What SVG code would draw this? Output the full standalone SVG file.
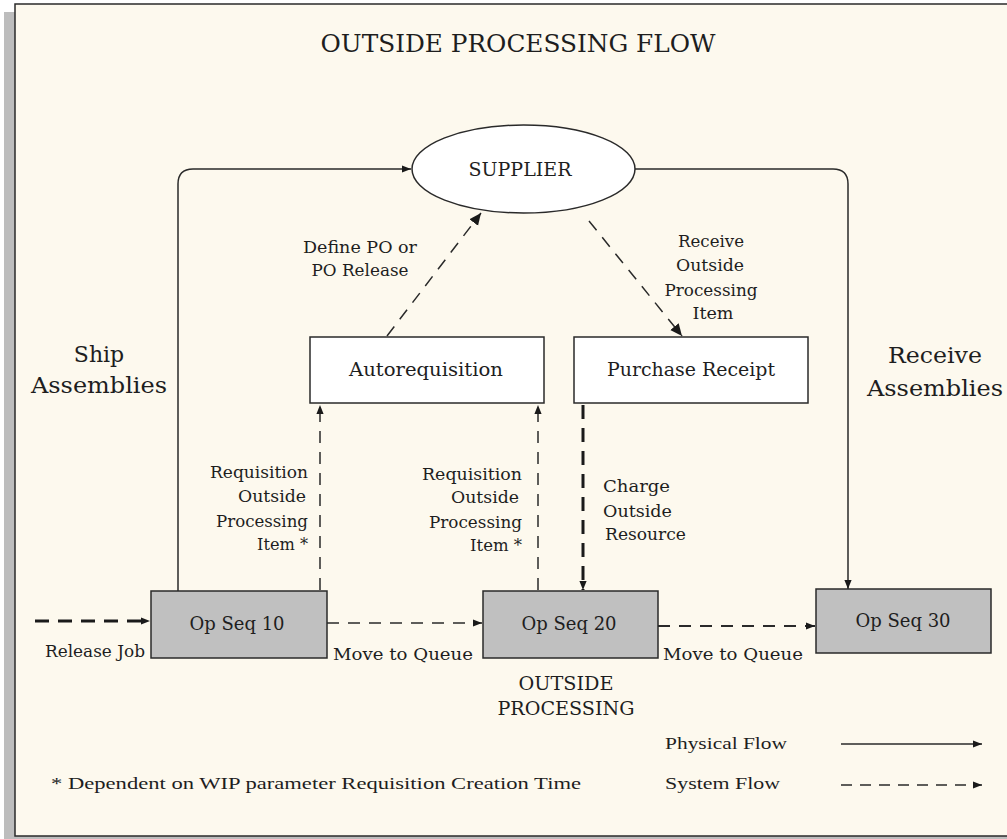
<svg xmlns="http://www.w3.org/2000/svg" width="1007" height="839" viewBox="0 0 1007 839">
<style>
text{font-family:"DejaVu Serif","Liberation Serif",serif;fill:#1e1e1e}
.t17{font-size:17px}
.t18{font-size:18px}
.big{font-size:22px}
.ln{fill:none;stroke:#2a2a2a;stroke-width:1.5}
.ds{fill:none;stroke:#2a2a2a;stroke-width:1.5;stroke-dasharray:12 9}
.dk{fill:none;stroke:#1a1a1a;stroke-width:3;stroke-dasharray:14 9}
.op{fill:#c0c0c0;stroke:#2a2a2a;stroke-width:1.5}
.wb{fill:#ffffff;stroke:#2a2a2a;stroke-width:1.5}
.foot{font-family:"Liberation Serif",serif;font-size:17px}
</style>
<defs>
<marker id="ah" viewBox="0 0 10 10" refX="10" refY="5" markerWidth="9" markerHeight="9" markerUnits="userSpaceOnUse" orient="auto"><path d="M0,1 L10,5 L0,9 z" fill="#1a1a1a"/></marker>
<marker id="ahs" viewBox="0 0 10 10" refX="10" refY="5" markerWidth="12" markerHeight="12" markerUnits="userSpaceOnUse" orient="auto"><path d="M0,0.5 L10,5 L0,9.5 z" fill="#1a1a1a"/></marker>
</defs>
<rect x="4" y="12" width="1003" height="827" fill="#bdbdbd"/>
<rect x="15" y="4" width="1000" height="832" fill="#fdf9ee" stroke="#2a2a2a" stroke-width="1.5"/>
<text x="518" y="52" text-anchor="middle" style="font-size:25px" textLength="395" lengthAdjust="spacingAndGlyphs">OUTSIDE PROCESSING FLOW</text>

<g id="connectors">
<path class="ln" d="M178,591 V184 Q178,169 193,169 H411" marker-end="url(#ah)"/>
<path class="ln" d="M635,169 H833 Q848,169 848,184 V589" marker-end="url(#ah)"/>
<path class="ds" d="M387,336 L481,213" marker-end="url(#ahs)"/>
<path class="ds" d="M589,221 L682,336" marker-end="url(#ahs)"/>
<path class="ds" d="M320,590 V405" marker-end="url(#ah)"/>
<path class="ds" d="M538,590 V405" marker-end="url(#ah)"/>
<path class="dk" d="M583,405 V590" marker-end="url(#ah)"/>
<path class="dk" d="M35,621 H150" marker-end="url(#ah)"/>
<path class="ds" d="M327,623 H482" marker-end="url(#ah)"/>
<path class="ds" style="stroke-width:2" d="M658,626 H815" marker-end="url(#ah)"/>
</g>

<g id="supplier">
<ellipse cx="523.5" cy="169" rx="111.5" ry="44" class="wb"/>
<text x="520" y="176" text-anchor="middle" style="font-size:19px">SUPPLIER</text>
</g>
<g id="autorequisition">
<rect x="310" y="337" width="234" height="66" class="wb"/>
<text x="426" y="376" text-anchor="middle" class="t18" textLength="154" lengthAdjust="spacingAndGlyphs">Autorequisition</text>
</g>
<g id="purchase-receipt">
<rect x="574" y="337" width="234" height="66" class="wb"/>
<text x="691" y="376" text-anchor="middle" class="t18" textLength="168" lengthAdjust="spacingAndGlyphs">Purchase Receipt</text>
</g>
<g id="op10">
<rect x="151" y="591" width="176" height="67" class="op"/>
<text x="237" y="630" text-anchor="middle" class="t18">Op Seq 10</text>
</g>
<g id="op20">
<rect x="483" y="591" width="175" height="67" class="op"/>
<text x="569" y="630" text-anchor="middle" class="t18">Op Seq 20</text>
</g>
<g id="op30">
<rect x="816" y="589" width="175" height="64" class="op"/>
<text x="903" y="627" text-anchor="middle" class="t18">Op Seq 30</text>
</g>

<g id="labels">
<text x="99" y="362" text-anchor="middle" class="big">Ship</text>
<text x="99" y="393" text-anchor="middle" class="big" textLength="136" lengthAdjust="spacingAndGlyphs">Assemblies</text>
<text x="935" y="363" text-anchor="middle" class="big" textLength="94" lengthAdjust="spacingAndGlyphs">Receive</text>
<text x="935" y="396" text-anchor="middle" class="big" textLength="136" lengthAdjust="spacingAndGlyphs">Assemblies</text>
<text x="360" y="253" text-anchor="middle" class="t17" textLength="114" lengthAdjust="spacingAndGlyphs">Define PO or</text>
<text x="360" y="276" text-anchor="middle" class="t17" textLength="97" lengthAdjust="spacingAndGlyphs">PO Release</text>
<text x="711" y="247" text-anchor="middle" class="t17" textLength="66" lengthAdjust="spacingAndGlyphs">Receive</text>
<text x="710" y="271" text-anchor="middle" class="t17" textLength="68" lengthAdjust="spacingAndGlyphs">Outside</text>
<text x="711" y="296" text-anchor="middle" class="t17" textLength="93" lengthAdjust="spacingAndGlyphs">Processing</text>
<text x="713" y="319" text-anchor="middle" class="t17" textLength="41" lengthAdjust="spacingAndGlyphs">Item</text>
<text x="308" y="478" text-anchor="end" class="t17" textLength="98" lengthAdjust="spacingAndGlyphs">Requisition</text>
<text x="306" y="502" text-anchor="end" class="t17" textLength="68" lengthAdjust="spacingAndGlyphs">Outside</text>
<text x="308" y="527" text-anchor="end" class="t17" textLength="92" lengthAdjust="spacingAndGlyphs">Processing</text>
<text x="308" y="550" text-anchor="end" class="t17" textLength="51" lengthAdjust="spacingAndGlyphs">Item *</text>
<text x="522" y="480" text-anchor="end" class="t17" textLength="100" lengthAdjust="spacingAndGlyphs">Requisition</text>
<text x="519" y="503" text-anchor="end" class="t17" textLength="68" lengthAdjust="spacingAndGlyphs">Outside</text>
<text x="522" y="528" text-anchor="end" class="t17" textLength="93" lengthAdjust="spacingAndGlyphs">Processing</text>
<text x="522" y="551" text-anchor="end" class="t17" textLength="52" lengthAdjust="spacingAndGlyphs">Item *</text>
<text x="603" y="492" class="t17" textLength="67" lengthAdjust="spacingAndGlyphs">Charge</text>
<text x="603" y="517" class="t17" textLength="69" lengthAdjust="spacingAndGlyphs">Outside</text>
<text x="605" y="540" class="t17" textLength="81" lengthAdjust="spacingAndGlyphs">Resource</text>
<text x="45" y="657" class="t17" textLength="100" lengthAdjust="spacingAndGlyphs">Release Job</text>
<text x="333" y="660" class="t17" textLength="140" lengthAdjust="spacingAndGlyphs">Move to Queue</text>
<text x="663" y="660" class="t17" textLength="140" lengthAdjust="spacingAndGlyphs">Move to Queue</text>
<text x="566" y="690" text-anchor="middle" class="t18" textLength="95" lengthAdjust="spacingAndGlyphs">OUTSIDE</text>
<text x="566" y="715" text-anchor="middle" class="t18" textLength="137" lengthAdjust="spacingAndGlyphs">PROCESSING</text>
</g>

<g id="legend">
<text x="665" y="749" class="foot" textLength="122" lengthAdjust="spacingAndGlyphs">Physical Flow</text>
<path class="ln" d="M841,744 H982" marker-end="url(#ah)"/>
<text x="665" y="789" class="foot" textLength="115" lengthAdjust="spacingAndGlyphs">System Flow</text>
<path class="ln" style="stroke-dasharray:11 8" d="M841,785 H982" marker-end="url(#ah)"/>
<text x="51" y="789" class="foot" textLength="530" lengthAdjust="spacingAndGlyphs">* Dependent on WIP parameter Requisition Creation Time</text>
</g>
</svg>
